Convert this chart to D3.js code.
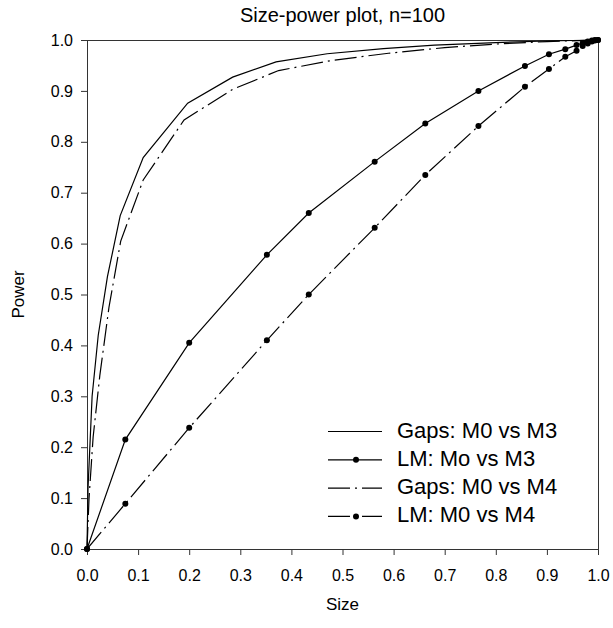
<!DOCTYPE html>
<html><head><meta charset="utf-8">
<script src="https://cdn.jsdelivr.net/npm/d3@7"></script>
<style>body{margin:0;background:#fff}svg{display:block}text{font-family:"Liberation Sans",Arial,sans-serif;fill:#000}</style>
</head><body><svg id="c" width="613" height="628"></svg>
<script>
const title = "Size-power plot, n=100";
const xTicks = [0,0.1,0.2,0.3,0.4,0.5,0.6,0.7,0.8,0.9,1.0];
const yTicks = [0,0.1,0.2,0.3,0.4,0.5,0.6,0.7,0.8,0.9,1.0];

const gapsM3Size  = [0,0.002,0.01,0.022,0.04,0.065,0.11,0.197,0.285,0.37,0.47,0.58,0.68,0.8,0.9,1.0];
const gapsM3Power = [0,0.12,0.3,0.42,0.535,0.655,0.769,0.876,0.927,0.957,0.973,0.983,0.99,0.995,0.998,1.0];
const gapsM4Size  = [0,0.004,0.012,0.025,0.043,0.066,0.11,0.19,0.285,0.375,0.48,0.59,0.7,0.8,0.9,1.0];
const gapsM4Power = [0,0.1,0.22,0.34,0.475,0.605,0.725,0.843,0.903,0.94,0.96,0.974,0.985,0.992,0.997,1.0];
const lmSize      = [0,0.075,0.2,0.352,0.434,0.563,0.662,0.766,0.857,0.904,0.936,0.958,0.97,0.98,0.988,0.994,1.0];
const lmM3Power   = [0,0.215,0.405,0.578,0.66,0.761,0.836,0.9,0.949,0.972,0.982,0.99,0.994,0.997,0.999,1.0,1.0];
const lmM4Power   = [0,0.089,0.238,0.41,0.5,0.631,0.735,0.831,0.908,0.943,0.967,0.979,0.988,0.993,0.997,0.999,1.0];

const seriesNames = ["Gaps: M0 vs M3","LM: Mo vs M3","Gaps: M0 vs M4","LM: M0 vs M4"];

const svg = d3.select("#c");
const L=87, R=598, T=40, B=549;
const x = d3.scaleLinear().domain([0,1]).range([L,R]);
const y = d3.scaleLinear().domain([0,1]).range([B,T]);

const dashDot = "22,5,2,5";
const series = [
  {name:seriesNames[0], xs:gapsM3Size, ys:gapsM3Power, dash:null, marker:false},
  {name:seriesNames[1], xs:lmSize, ys:lmM3Power, dash:null, marker:true},
  {name:seriesNames[2], xs:gapsM4Size, ys:gapsM4Power, dash:dashDot, marker:false},
  {name:seriesNames[3], xs:lmSize, ys:lmM4Power, dash:dashDot, marker:true}
];

// frame top/right
svg.append("line").attr("x1",L).attr("x2",R+0.5).attr("y1",T+0.5).attr("y2",T+0.5).attr("stroke","#333");
svg.append("line").attr("x1",R+0.5).attr("x2",R+0.5).attr("y1",T).attr("y2",B).attr("stroke","#333");

const xAxis = svg.append("g").attr("transform",`translate(0,${B})`)
  .call(d3.axisBottom(x).tickValues(xTicks).tickFormat(d3.format(".1f")).tickSize(6).tickPadding(15));
const yAxis = svg.append("g").attr("transform",`translate(${L},0)`)
  .call(d3.axisLeft(y).tickValues(yTicks).tickFormat(d3.format(".1f")).tickSize(6).tickPadding(8));
[xAxis,yAxis].forEach(g=>{
  g.selectAll("path,line").attr("stroke","#333");
  g.selectAll("text").attr("font-size",16).attr("font-family","Liberation Sans, Arial, sans-serif").attr("fill","#000");
});

const line = d3.line().x(d=>x(d[0])).y(d=>y(d[1]));
series.forEach(s=>{
  const pts = s.xs.map((v,i)=>[v,s.ys[i]]);
  svg.append("path").attr("d",line(pts)).attr("fill","none").attr("stroke","#000")
    .attr("stroke-width",1.2).attr("stroke-dasharray",s.dash);
  if(s.marker){
    svg.append("g").selectAll("circle").data(pts).join("circle")
      .attr("cx",d=>x(d[0])).attr("cy",d=>y(d[1])).attr("r",3).attr("fill","#000");
  }
});

// legend
const lg = svg.append("g");
series.forEach((s,i)=>{
  const yy = 431.5 + i*28.3;
  lg.append("line").attr("x1",328).attr("x2",382).attr("y1",yy).attr("y2",yy)
    .attr("stroke","#000").attr("stroke-width",1.2).attr("stroke-dasharray",s.dash);
  if(s.marker) lg.append("circle").attr("cx",356).attr("cy",yy).attr("r",3).attr("fill","#000");
  lg.append("text").attr("x",397).attr("y",yy+6).attr("font-size",22).text(s.name);
});

svg.append("text").attr("x",(L+R)/2).attr("y",22).attr("text-anchor","middle").attr("font-size",20).text(title);
svg.append("text").attr("x",(L+R)/2).attr("y",610).attr("text-anchor","middle").attr("font-size",17).text("Size");
svg.append("text").attr("transform",`translate(24,${(T+B)/2}) rotate(-90)`).attr("text-anchor","middle").attr("font-size",17).text("Power");
</script></body></html>
